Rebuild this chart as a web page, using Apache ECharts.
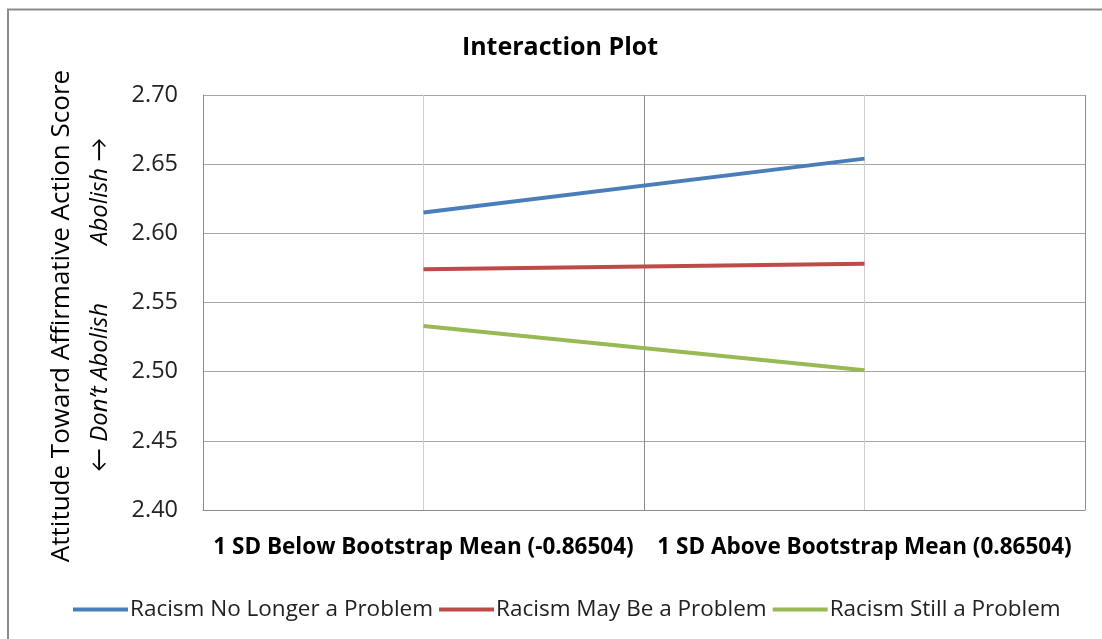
<!DOCTYPE html>
<html>
<head>
<meta charset="utf-8">
<script src="https://cdn.jsdelivr.net/npm/echarts@6/dist/echarts.min.js"></script>
<style>html,body{margin:0;padding:0;background:#fff;}#c{width:1102px;height:639px;}</style>
</head>
<body>
<div id="c"></div>
<script>
var categories = ['', '1 SD Below Bootstrap Mean (-0.86504)', ' ', '1 SD Above Bootstrap Mean (0.86504)', '  '];
var pointCats = ['1 SD Below Bootstrap Mean (-0.86504)', '1 SD Above Bootstrap Mean (0.86504)'];
var seriesNames = ['Racism No Longer a Problem', 'Racism May Be a Problem', 'Racism Still a Problem'];
var noLonger = [2.615, 2.654];
var mayBe = [2.574, 2.578];
var still = [2.533, 2.501];
var yTicks = [2.40, 2.45, 2.50, 2.55, 2.60, 2.65, 2.70];

var FONT = '"Open Sans", Lato, sans-serif';
var colors = ['#4a7ebb', '#be4b48', '#98b954'];
function pairs(vals){ return vals.map(function(v,i){ return [pointCats[i], v]; }); }

var chart = echarts.init(document.getElementById('c'), null, {renderer:'canvas'});
chart.setOption({
  animation: false,
  textStyle: {fontFamily: FONT},
  grid: {left: 203, top: 95, right: 17, bottom: 129, containLabel: false},
  xAxis: {
    type: 'category', data: categories, boundaryGap: false,
    axisLine: {show: true, lineStyle: {color: '#8c8c8c', width: 1}},
    axisTick: {show: false},
    axisLabel: {interval: 0, margin: 26, color: '#000', fontSize: 22.5, fontWeight: 'bold', fontFamily: FONT},
    splitLine: {show: true, lineStyle: {color: ['#8c8c8c', '#cfcfcf', '#8c8c8c', '#cfcfcf', '#8c8c8c'], width: 1}}
  },
  yAxis: {
    type: 'value', min: yTicks[0], max: yTicks[yTicks.length-1], interval: 0.05,
    axisLine: {show: true, lineStyle: {color: '#8c8c8c'}},
    axisTick: {show: false},
    axisLabel: {margin: 25, color: '#222', fontSize: 23.5, fontFamily: FONT, formatter: function(v){ return v.toFixed(2); }},
    splitLine: {show: true, lineStyle: {color: '#a6a6a6', width: 1}}
  },
  legend: {
    top: 593, left: 68, itemWidth: 55, itemHeight: 4, itemGap: 6,
    icon: 'rect',
    textStyle: {fontSize: 22.5, color: '#222', fontFamily: FONT, padding: [0,0,0,-3]},
    data: seriesNames
  },
  series: [
    {name: seriesNames[0], type: 'line', data: pairs(noLonger), showSymbol: false, symbol: 'none', lineStyle: {color: colors[0], width: 4}, itemStyle: {color: colors[0]}},
    {name: seriesNames[1], type: 'line', data: pairs(mayBe), showSymbol: false, symbol: 'none', lineStyle: {color: colors[1], width: 4}, itemStyle: {color: colors[1]}},
    {name: seriesNames[2], type: 'line', data: pairs(still), showSymbol: false, symbol: 'none', lineStyle: {color: colors[2], width: 4}, itemStyle: {color: colors[2]}}
  ],
  graphic: [
    {type: 'rect', shape: {x: 8, y: 9.5, width: 1110, height: 640}, style: {fill: 'none', stroke: '#8c8c8c', lineWidth: 2}, silent: true},
    {type: 'text', x: 560, y: 48, style: {text: 'Interaction Plot', font: 'bold 25px ' + FONT, fill: '#000', textAlign: 'center', textVerticalAlign: 'middle'}},
    {type: 'text', x: 62, y: 316, rotation: Math.PI/2, style: {text: 'Attitude Toward Affirmative Action Score', font: '26px ' + FONT, fill: '#000', textAlign: 'center', textVerticalAlign: 'middle'}},
    {type: 'text', x: 100, y: 245, rotation: Math.PI/2, style: {text: 'Abolish \u2192', font: 'italic 24px ' + FONT, fill: '#000', textAlign: 'left', textVerticalAlign: 'middle'}},
    {type: 'text', x: 100, y: 303, rotation: Math.PI/2, style: {text: '\u2190 Don\u2019t Abolish', font: 'italic 24px ' + FONT, fill: '#000', textAlign: 'right', textVerticalAlign: 'middle'}}
  ]
});
</script>
</body>
</html>
